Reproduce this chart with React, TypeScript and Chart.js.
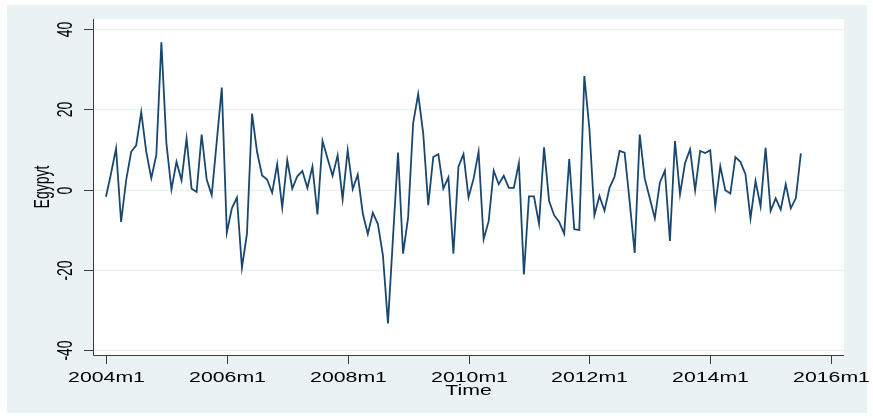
import React, { useEffect, useRef } from "react";
import { Chart, registerables } from "chart.js";

Chart.register(...registerables);

// Monthly series, starting 2004m1
const startYear = 2004;
const egyptValues: number[] = [
  -1.8, 4, 10.2, -8.1, 2.3, 9.4, 11, 19.3, 9.4, 2.8, 8.6, 36.7,
  11.5, 0, 6.9, 2.3, 12.7, 0.2, -0.6, 13.7, 2.5, -1.4, 12, 25.4,
  -10.7, -4.7, -2, -19.5, -11, 18.9, 9.4, 3.5, 2.5, -0.8, 6.3, -4.5,
  7.3, 0.25, 3.3, 4.6, 0.4, 5.7, -6.2, 12.1, 7.7, 3.4, 8.5, -2.4,
  9.8, 0.1, 3.7, -6, -11.1, -5.8, -8.6, -16.4, -33.4, -12, 9.2, -16,
  -7, 16.5, 23.8, 14, -3.9, 8.1, 8.8, 0.25, 3, -16, 5.7, 8.8,
  -2, 2.7, 9.4, -12.4, -7.9, 4.7, 1.3, 3.4, 0.4, 0.4, 6.6, -21.2,
  -1.7, -1.7, -8.6, 10.5, -2.9, -6.4, -8.1, -11, 7.6, -9.9, -10.1, 28.3,
  15.2, -6.4, -1.6, -5.3, 0.4, 3.2, 9.6, 9.2, -3, -15.8, 13.7, 2.7,
  -2.2, -7.2, 1.7, 4.7, -12.8, 12.1, -1.2, 6.6, 10, -0.2, 9.6, 9.1,
  9.8, -4.2, 5.8, -0.2, -1, 8.1, 6.9, 3.8, -7.2, 2.1, -4.2, 10.4,
  -5.3, -2.2, -5, 1.3, -4.7, -2.2, 9,
];

const xTickLabels: string[] = ["2004m1", "2006m1", "2008m1", "2010m1", "2012m1", "2014m1", "2016m1"];
const yTickValues: number[] = [-40, -20, 0, 20, 40];
const xTitle = "Time";
const yTitle = "Egypyt";

const FONT = "14px 'Liberation Sans', Arial, sans-serif";
const STRETCH = 1.52;
const BG = "#eaf2f3";
const AXIS = "#3c3c3c";

function labelToIndex(lbl: string): number {
  const [y, m] = lbl.split("m").map(Number);
  return (y - startYear) * 12 + (m - 1);
}

const stataPlugin = {
  id: "stataLook",
  beforeDraw(chart: any) {
    const { ctx, chartArea: a, width, height } = chart;
    ctx.save();
    ctx.fillStyle = "#ffffff";
    ctx.fillRect(0, 0, width, height);
    ctx.fillStyle = BG;
    ctx.fillRect(7, 5, 860, 408);
    ctx.fillStyle = "#ffffff";
    ctx.fillRect(a.left, a.top, a.right - a.left, a.bottom - a.top);
    // gridlines
    const ys = chart.scales.y;
    ctx.strokeStyle = BG;
    ctx.lineWidth = 1.5;
    yTickValues.forEach((v) => {
      const py = Math.round(ys.getPixelForValue(v)) + 0.5;
      ctx.beginPath();
      ctx.moveTo(a.left, py);
      ctx.lineTo(a.right, py);
      ctx.stroke();
    });
    ctx.restore();
  },
  afterDraw(chart: any) {
    const { ctx, chartArea: a } = chart;
    const xs = chart.scales.x;
    const ys = chart.scales.y;
    ctx.save();
    ctx.strokeStyle = AXIS;
    ctx.lineWidth = 1;
    // axes
    ctx.beginPath();
    ctx.moveTo(a.left + 0.5, a.top);
    ctx.lineTo(a.left + 0.5, a.bottom + 0.5);
    ctx.lineTo(a.right, a.bottom + 0.5);
    ctx.stroke();
    ctx.fillStyle = "#000000";
    ctx.font = FONT;
    // y ticks
    yTickValues.forEach((v) => {
      const py = Math.round(ys.getPixelForValue(v)) + 0.5;
      ctx.beginPath();
      ctx.moveTo(a.left - 9, py);
      ctx.lineTo(a.left, py);
      ctx.stroke();
      ctx.save();
      ctx.translate(a.left - 27, py);
      ctx.scale(STRETCH, 1);
      ctx.rotate(-Math.PI / 2);
      ctx.textAlign = "center";
      ctx.textBaseline = "middle";
      ctx.fillText(String(v), 0, 0);
      ctx.restore();
    });
    // x ticks
    xTickLabels.forEach((lbl) => {
      const px = Math.round(xs.getPixelForValue(labelToIndex(lbl))) + 0.5;
      ctx.beginPath();
      ctx.moveTo(px, a.bottom);
      ctx.lineTo(px, a.bottom + 9);
      ctx.stroke();
      ctx.save();
      ctx.translate(px, a.bottom + 27);
      ctx.scale(STRETCH, 1);
      ctx.textAlign = "center";
      ctx.textBaseline = "alphabetic";
      ctx.fillText(lbl, 0, 0);
      ctx.restore();
    });
    // titles
    ctx.save();
    ctx.translate((a.left + a.right) / 2, a.bottom + 40);
    ctx.scale(STRETCH, 1);
    ctx.textAlign = "center";
    ctx.textBaseline = "alphabetic";
    ctx.fillText(xTitle, 0, 0);
    ctx.restore();
    ctx.save();
    ctx.translate(43, (a.top + a.bottom) / 2);
    ctx.scale(STRETCH, 1);
    ctx.rotate(-Math.PI / 2);
    ctx.textAlign = "center";
    ctx.textBaseline = "middle";
    ctx.fillText(yTitle, 0, 0);
    ctx.restore();
    ctx.restore();
  },
};

export default function App() {
  const ref = useRef<HTMLCanvasElement | null>(null);
  useEffect(() => {
    if (!ref.current) return;
    const points = egyptValues.map((v, i) => ({ x: i, y: v }));
    const chart = new Chart(ref.current, {
      type: "line",
      data: {
        datasets: [
          {
            label: yTitle,
            data: points,
            borderColor: "#1a476f",
            borderWidth: 1.8,
            pointRadius: 0,
            tension: 0,
            fill: false,
          },
        ],
      },
      options: {
        animation: false,
        responsive: false,
        layout: { padding: { left: 93, right: 29, top: 19, bottom: 65 } },
        plugins: { legend: { display: false }, tooltip: { enabled: false } },
        scales: {
          x: { type: "linear", min: -2.58, max: 146.57, display: false },
          y: { type: "linear", min: -41.25, max: 42.5, display: false },
        },
      },
      plugins: [stataPlugin],
    });
    return () => chart.destroy();
  }, []);
  return (
    <div style={{ position: "fixed", left: 0, top: 0, width: 873, height: 420 }}>
      <canvas ref={ref} width={873} height={420} style={{ display: "block" }} />
    </div>
  );
}
